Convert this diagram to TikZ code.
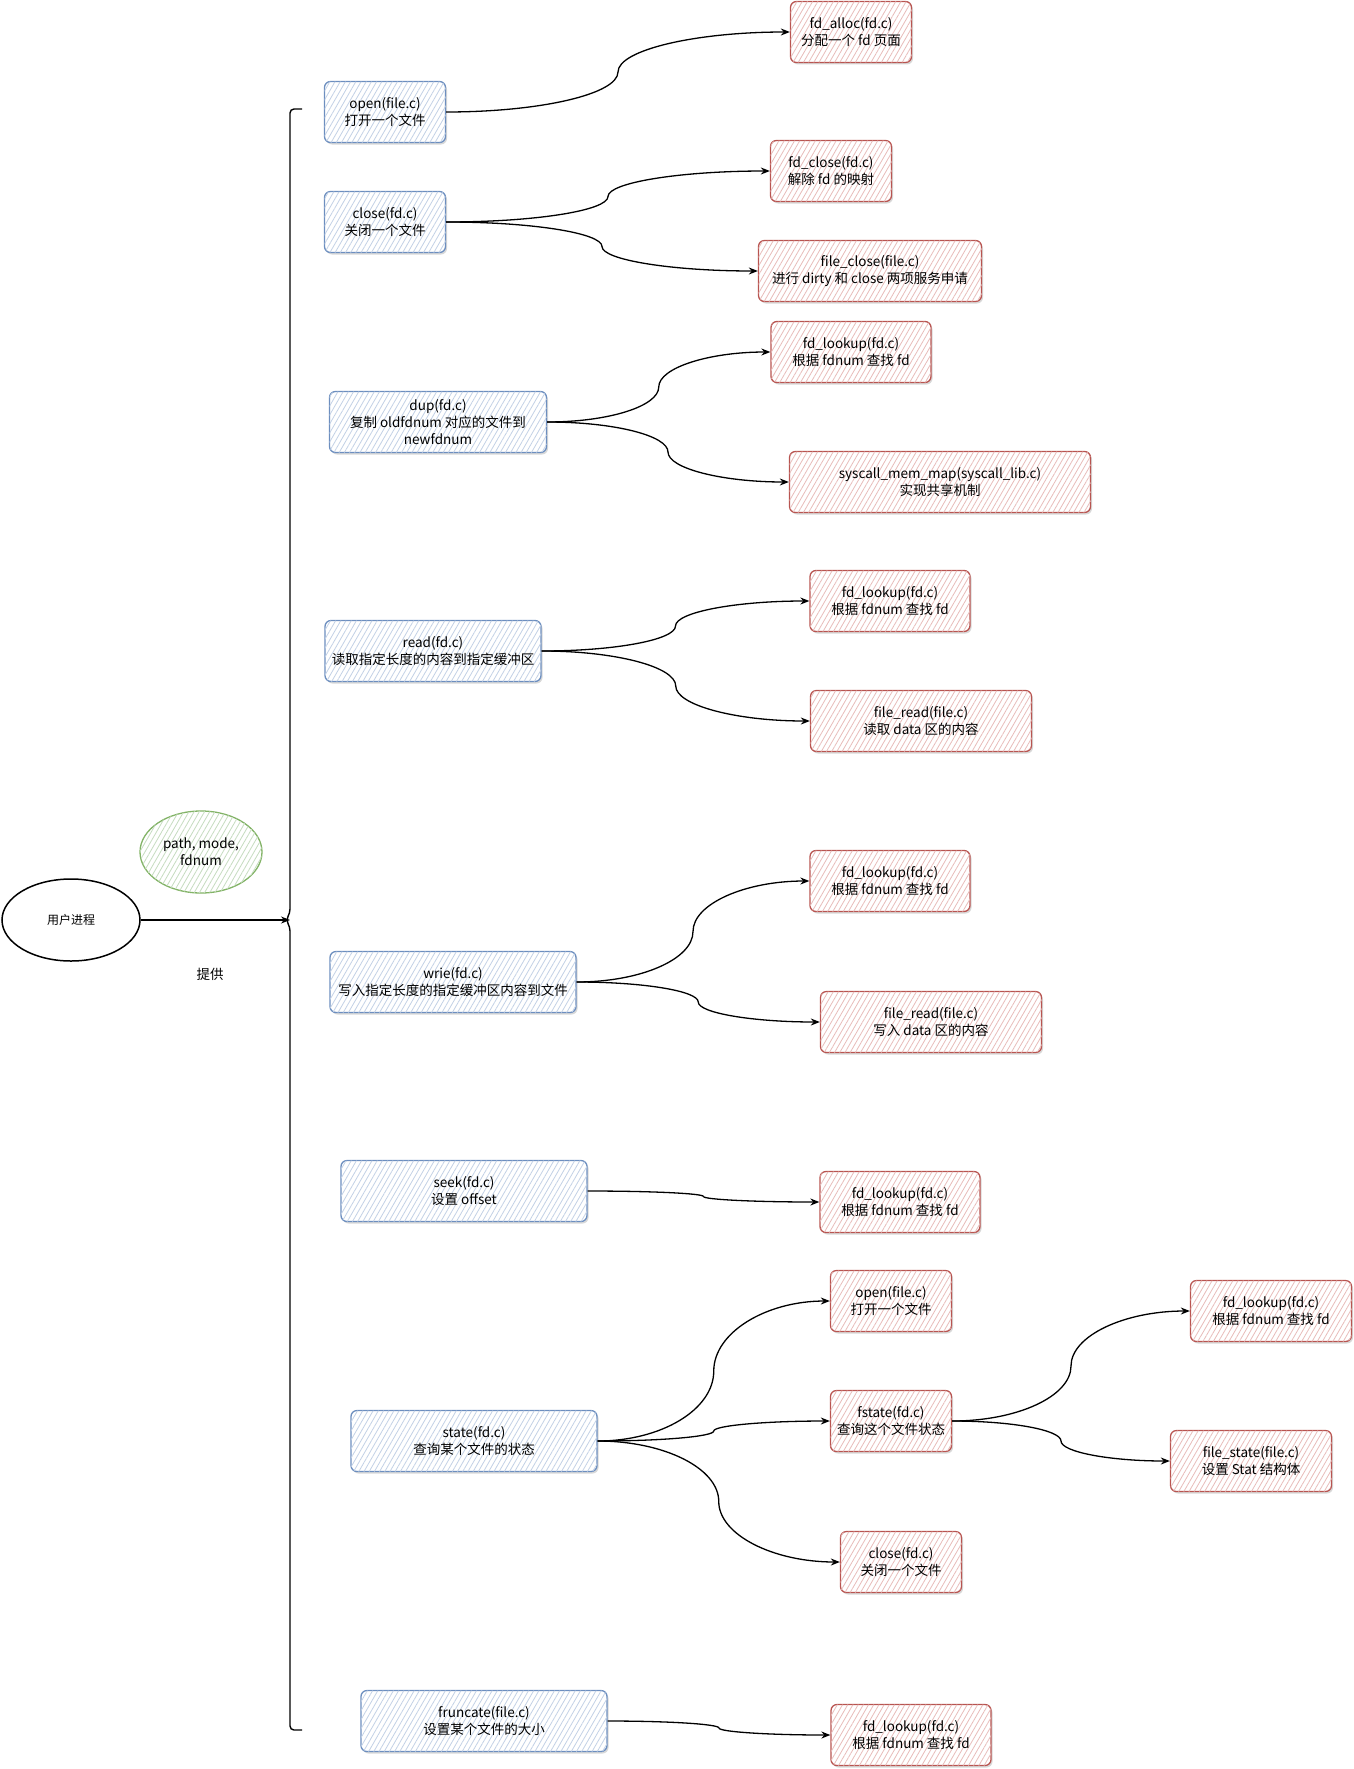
\documentclass[tikz,border=0pt]{standalone}
\usepackage{fontspec}
\setmainfont{Noto Sans CJK SC}
\usetikzlibrary{shapes.geometric, arrows.meta, patterns.meta, shadows, calc}
\definecolor{blueline}{HTML}{6C8EBF}
\definecolor{bluehatch}{HTML}{C3D1E6}
\definecolor{redline}{HTML}{B85450}
\definecolor{redhatch}{HTML}{E8BCBA}
\definecolor{greenline}{HTML}{82B366}
\definecolor{greenhatch}{HTML}{C6DCC0}
\tikzset{
  % --- Hop chung ---------------------------------------------
  fbase/.style={draw, rounded corners=6pt, line width=1.3pt, fill=white,
    minimum height=61pt, align=center, inner sep=2pt,
    font=\fontsize{13.5}{17}\selectfont,
    drop shadow={shadow xshift=1.5pt, shadow yshift=-2pt, fill=black!30}},
  callbox/.style={fbase, draw=blueline,
    postaction={pattern={Lines[angle=60,distance=4.5pt,line width=0.8pt]},
      pattern color=bluehatch}},
  implbox/.style={fbase, draw=redline,
    postaction={pattern={Lines[angle=60,distance=4.5pt,line width=0.8pt]},
      pattern color=redhatch}},
  wsm/.style={minimum width=121pt},
  wmd/.style={minimum width=160pt},
  wlg/.style={minimum width=221pt},
  wxl/.style={minimum width=246pt},
  % --- Tien trinh / tham so ----------------------------------
  proc/.style={draw, ellipse, line width=1.5pt, fill=white,
    minimum width=138pt, minimum height=82pt, inner sep=0pt,
    font=\fontsize{12}{15}\selectfont},
  param/.style={draw=greenline, ellipse, line width=1.3pt, fill=white,
    minimum width=122pt, minimum height=82pt, inner sep=0pt, align=center,
    font=\fontsize{13.5}{17}\selectfont,
    postaction={pattern={Lines[angle=60,distance=4.5pt,line width=0.8pt]},
      pattern color=greenhatch}},
  lbl/.style={font=\fontsize{13.5}{17}\selectfont},
  brk/.style={line width=1.4pt, rounded corners=4pt},
  % --- Duong noi ---------------------------------------------
  uarr/.style={-{Stealth[length=9pt,width=7pt]}, line width=1.2pt},
  conn/.style={-{Stealth[length=9pt,width=7pt]}, line width=1.3pt,
    to path={let \p1=(\tikztostart), \p2=(\tikztotarget) in
      .. controls ({\x1+0.275*(\x2-\x1)},\y1)
         and ({(\x1+\x2)/2},{\y1+0.225*(\y2-\y1)})
      .. ({(\x1+\x2)/2},{(\y1+\y2)/2})
      .. controls ({(\x1+\x2)/2},{\y2-0.225*(\y2-\y1)})
         and ({\x2-0.275*(\x2-\x1)},\y2)
      .. (\tikztotarget) \tikztonodes}}
}
\begin{document}
\begin{tikzpicture}[x=1pt, y=-1pt]
  \useasboundingbox (0,0) rectangle (1354,1769);

  % --- Ben trai: nguoi dung ----------------------------------
  \node[proc] (USER) at (71,920) {用户进程};
  \node[param] (PARAM) at (201,852) {path, mode,\\fdnum};
  \node[lbl] (GIVE) at (210,974) {提供};
  \coordinate (BRK) at (290,920);
  \draw[brk] (302,109) -- (290,109) -- (290,913) -- (286,920) -- (290,927)
    -- (290,1730) -- (302,1730);
  \draw[uarr] (USER.east) -- (BRK);

  % --- Cot giua: cac ham goi --------------------------------
  \node[callbox, wsm] (OPEN) at (385,112) {open(file.c)\\打开一个文件};
  \node[callbox, wsm] (CLOSE) at (385,222) {close(fd.c)\\关闭一个文件};
  \node[callbox, minimum width=217pt] (DUP) at (438,422)
    {dup(fd.c)\\复制 oldfdnum 对应的文件到\\newfdnum};
  \node[callbox, minimum width=216pt] (READ) at (433,651)
    {read(fd.c)\\读取指定长度的内容到指定缓冲区};
  \node[callbox, wxl] (WRIE) at (453,982)
    {wrie(fd.c)\\写入指定长度的指定缓冲区内容到文件};
  \node[callbox, wxl] (SEEK) at (464,1191) {seek(fd.c)\\设置 offset};
  \node[callbox, wxl] (STATE) at (474,1441) {state(fd.c)\\查询某个文件的状态};
  \node[callbox, wxl] (FRUNC) at (484,1721) {fruncate(file.c)\\设置某个文件的大小};

  % --- Cot phai: ham thuc hien -------------------------------
  \node[implbox, wsm] (ALLOC) at (851,32) {fd\_alloc(fd.c)\\分配一个 fd 页面};
  \node[implbox, wsm] (FDCLOSE) at (831,171) {fd\_close(fd.c)\\解除 fd 的映射};
  \node[implbox, minimum width=223pt] (FCLOSE) at (870,271)
    {file\_close(file.c)\\进行 dirty 和 close 两项服务申请};
  \node[implbox, wmd] (LKDUP) at (851,352) {fd\_lookup(fd.c)\\根据 fdnum 查找 fd};
  \node[implbox, minimum width=301pt] (MEMMAP) at (940,482)
    {syscall\_mem\_map(syscall\_lib.c)\\实现共享机制};
  \node[implbox, wmd] (LKREAD) at (890,601) {fd\_lookup(fd.c)\\根据 fdnum 查找 fd};
  \node[implbox, wlg] (FREAD) at (921,721) {file\_read(file.c)\\读取 data 区的内容};
  \node[implbox, wmd] (LKWRIE) at (890,881) {fd\_lookup(fd.c)\\根据 fdnum 查找 fd};
  \node[implbox, wlg] (FWRITE) at (931,1022) {file\_read(file.c)\\写入 data 区的内容};
  \node[implbox, wmd] (LKSEEK) at (900,1202) {fd\_lookup(fd.c)\\根据 fdnum 查找 fd};
  \node[implbox, wsm] (SOPEN) at (891,1301) {open(file.c)\\打开一个文件};
  \node[implbox, wsm] (FSTATE) at (891,1421) {fstate(fd.c)\\查询这个文件状态};
  \node[implbox, wsm] (SCLOSE) at (901,1562) {close(fd.c)\\关闭一个文件};
  \node[implbox, minimum width=161pt] (LKFST) at (1271,1311)
    {fd\_lookup(fd.c)\\根据 fdnum 查找 fd};
  \node[implbox, minimum width=161pt] (FSTAT) at (1251,1461)
    {file\_state(file.c)\\设置 Stat 结构体};
  \node[implbox, wmd] (LKFRUNC) at (911,1735) {fd\_lookup(fd.c)\\根据 fdnum 查找 fd};

  % --- Quan he goi ham ---------------------------------------
  \draw[conn] (OPEN.east) to (ALLOC.west);
  \draw[conn] (CLOSE.east) to (FDCLOSE.west);
  \draw[conn] (CLOSE.east) to (FCLOSE.west);
  \draw[conn] (DUP.east) to (LKDUP.west);
  \draw[conn] (DUP.east) to (MEMMAP.west);
  \draw[conn] (READ.east) to (LKREAD.west);
  \draw[conn] (READ.east) to (FREAD.west);
  \draw[conn] (WRIE.east) to (LKWRIE.west);
  \draw[conn] (WRIE.east) to (FWRITE.west);
  \draw[conn] (SEEK.east) to (LKSEEK.west);
  \draw[conn] (STATE.east) to (SOPEN.west);
  \draw[conn] (STATE.east) to (FSTATE.west);
  \draw[conn] (STATE.east) to (SCLOSE.west);
  \draw[conn] (FSTATE.east) to (LKFST.west);
  \draw[conn] (FSTATE.east) to (FSTAT.west);
  \draw[conn] (FRUNC.east) to (LKFRUNC.west);

\end{tikzpicture}
\end{document}
